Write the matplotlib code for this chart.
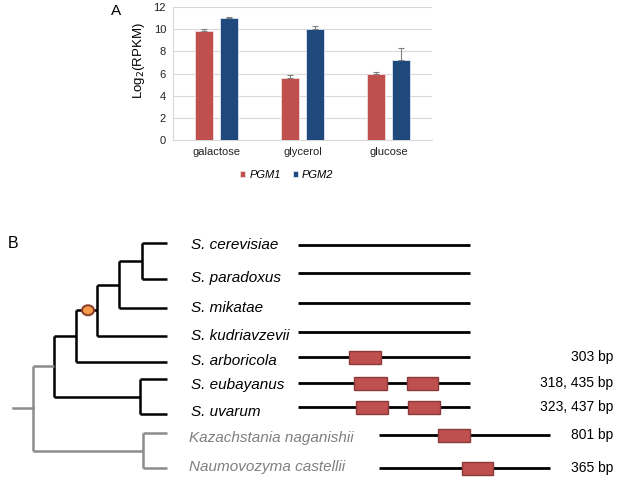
import numpy as np
import matplotlib
matplotlib.use("Agg")
import matplotlib.pyplot as plt
from matplotlib.patches import Rectangle, Ellipse

plt.rcParams['font.family'] = ['Liberation Sans', 'DejaVu Sans']

# ---- panel A data ----
conditions = ['galactose', 'glycerol', 'glucose']
pgm1 = [9.8, 5.6, 6.0]
pgm1_err = [0.2, 0.3, 0.1]
pgm2 = [11.0, 10.0, 7.25]
pgm2_err = [0.1, 0.25, 1.05]

# ---- panel B data ----
species = ['S. cerevisiae', 'S. paradoxus', 'S. mikatae', 'S. kudriavzevii',
           'S. arboricola', 'S. eubayanus', 'S. uvarum',
           'Kazachstania naganishii', 'Naumovozyma castellii']
leaf_y = [243, 279, 308, 336, 362, 379, 414, 433, 468]
label_y = [245, 278, 308, 336, 361, 385, 412, 438, 467]
gene_y = [245, 273, 303, 332, 357, 383, 407, 435, 468]
outgroup = [False] * 7 + [True, True]
# internal nodes: (child a, child b, node x), children are leaf idx or node names
nodes = {
    'cp': (0, 1, 142),
    'cpm': ('cp', 2, 119),
    'cpmk': ('cpm', 3, 97),
    'cpmka': ('cpmk', 4, 76),
    'eu': (5, 6, 140),
    'sacch': ('cpmka', 'eu', 54),
    'out': (7, 8, 143),
    'root': ('sacch', 'out', 33),
}
gene_span = [(298, 470)] * 7 + [(379, 550)] * 2
gene_boxes = [[], [], [], [], [(349, 381)], [(354, 387), (407, 438)],
              [(356, 388), (408, 440)], [(438, 470)], [(462, 493)]]
sizes = ['', '', '', '', '303 bp', '318, 435 bp', '323, 437 bp', '801 bp', '365 bp']

red = '#C0504D'
blue = '#1F497D'
gray = '#8C8C8C'

fig = plt.figure(figsize=(6.17, 4.82), dpi=100)

# ---------------- panel A ----------------
ax = fig.add_axes([173 / 617, 1 - 140 / 482, 259 / 617, 133 / 482])
x = np.arange(len(conditions))
w = 0.21
ax.bar(x - 0.145, pgm1, w, color=red, edgecolor='#F2DCDB', linewidth=0.6,
       yerr=[np.zeros(3), pgm1_err], error_kw=dict(ecolor='#7F7F7F', elinewidth=0.8, capsize=2, capthick=0.8),
       label='PGM1', zorder=3)
ax.bar(x + 0.145, pgm2, w, color=blue, edgecolor='#DCE6F2', linewidth=0.6,
       yerr=[np.zeros(3), pgm2_err], error_kw=dict(ecolor='#7F7F7F', elinewidth=0.8, capsize=2, capthick=0.8),
       label='PGM2', zorder=3)
ax.set_xlim(-0.5, 2.5)
ax.set_ylim(0, 12)
ax.set_yticks(range(0, 13, 2))
ax.set_xticks(x)
ax.set_xticklabels(conditions)
ax.tick_params(axis='both', length=0, labelsize=8, colors='#222222', pad=5)
ax.yaxis.grid(True, color='#D9D9D9', linewidth=0.8, zorder=0)
ax.set_axisbelow(True)
for s in ['top', 'right']:
    ax.spines[s].set_visible(False)
for s in ['left', 'bottom']:
    ax.spines[s].set_color('#D9D9D9')
    ax.spines[s].set_linewidth(0.8)
ax.set_ylabel('Log$_2$(RPKM)', fontsize=9.5)
ax.yaxis.set_label_coords(-0.1, 0.6)
leg = ax.legend(loc='upper center', bbox_to_anchor=(0.44, -0.15), ncol=2, frameon=False,
                handlelength=0.45, handleheight=0.45, handletextpad=0.4,
                columnspacing=1.0, prop={'style': 'italic', 'size': 8})
fig.text(116 / 617, 1 - 11 / 482, 'A', fontsize=11, ha='center', va='center')

# ---------------- panel B ----------------
bx = fig.add_axes([0, 0, 1, 1 - 220 / 482])
bx.set_xlim(0, 617)
bx.set_ylim(482, 220)
bx.axis('off')
fig.text(8 / 617, 1 - 243 / 482, 'B', fontsize=11.5, ha='left', va='center')

leaf_x = 167
node_y = {}
gray_nodes = {'root', 'out'}


def ypos(c):
    if isinstance(c, str):
        if c not in node_y:
            a, b, nx = nodes[c]
            node_y[c] = (ypos(a) + ypos(b)) / 2
        return node_y[c]
    return leaf_y[c]


def xpos(c):
    return nodes[c][2] if isinstance(c, str) else leaf_x


for name, (a, b, nx) in nodes.items():
    col = gray if name in gray_nodes else 'black'
    ya, yb = ypos(a), ypos(b)
    bx.plot([nx, nx], [ya, yb], color=col, lw=1.8, solid_capstyle='butt')
    for c, yc in ((a, ya), (b, yb)):
        bx.plot([nx, xpos(c)], [yc, yc], color=col, lw=1.8, solid_capstyle='butt')
# root stem
bx.plot([13, nodes['root'][2]], [ypos('root'), ypos('root')], color=gray, lw=1.8)
# marker on branch
bx.add_patch(Ellipse((88, ypos('cpmk')), 12, 10, facecolor='#F39A4B',
                     edgecolor='#8B3A2A', lw=1.4, zorder=5))

for i, sp in enumerate(species):
    bx.text(189 if outgroup[i] else 191, label_y[i], sp, fontsize=11, style='italic',
            color='#7F7F7F' if outgroup[i] else 'black', ha='left', va='center')
    x0, x1 = gene_span[i]
    bx.plot([x0, x1], [gene_y[i], gene_y[i]], color='black', lw=2, solid_capstyle='butt')
    for b0, b1 in gene_boxes[i]:
        bx.add_patch(Rectangle((b0, gene_y[i] - 6.5), b1 - b0, 13, facecolor=red,
                               edgecolor='#8B3A3A', lw=1.0, zorder=4))
    if sizes[i]:
        bx.text(613, gene_y[i], sizes[i], fontsize=10, ha='right', va='center')

fig.savefig('out.png', dpi=100)
